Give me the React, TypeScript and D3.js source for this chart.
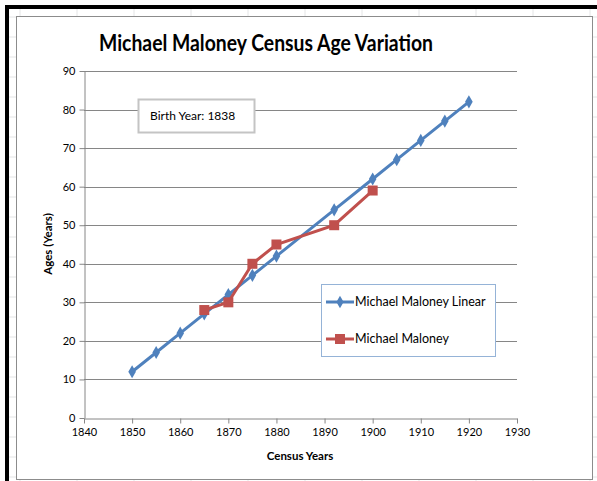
import { useEffect, useRef } from 'react';
import * as d3 from 'd3';

// data
const linearYears = [1850, 1855, 1860, 1865, 1870, 1875, 1880, 1892, 1900, 1905, 1910, 1915, 1920];
const linearAges = [12, 17, 22, 27, 32, 37, 42, 54, 62, 67, 72, 77, 82];
const censusYears = [1865, 1870, 1875, 1880, 1892, 1900];
const censusAges = [28, 30, 40, 45, 50, 59];
const xTicks = [1840, 1850, 1860, 1870, 1880, 1890, 1900, 1910, 1920, 1930];
const yTicks = [0, 10, 20, 30, 40, 50, 60, 70, 80, 90];

const BLUE = '#4F81BD';
const RED = '#C0504D';
const GRID = '#868686';
const FONT = 'Lato, "Open Sans", sans-serif';

function App() {
  const svgRef = useRef<SVGSVGElement>(null);

  useEffect(() => {
    const w = 597;
    const h = 481;
    const svg = d3.select(svgRef.current);
    svg.selectAll('*').remove();
    svg.attr('width', w).attr('height', h).style('background', '#fff');

    // spreadsheet behind the chart
    const sheet = svg.append('g');
    for (let gx = 20; gx < w; gx += 57) {
      sheet.append('line').attr('x1', gx).attr('x2', gx).attr('y1', 9).attr('y2', h).attr('stroke', '#e4e5e6');
    }
    for (let gy = 17; gy < h; gy += 20) {
      sheet.append('line').attr('x1', 9).attr('x2', w).attr('y1', gy).attr('y2', gy).attr('stroke', '#e4e5e6');
    }
    sheet.append('rect').attr('x', 5).attr('y', 5).attr('width', w - 5).attr('height', 4).attr('fill', '#000');
    sheet.append('rect').attr('x', 5).attr('y', 5).attr('width', 4).attr('height', h - 5).attr('fill', '#000');

    // chart area
    svg.append('rect')
      .attr('x', 16.5).attr('y', 16.5).attr('width', 576).attr('height', 463)
      .attr('fill', '#fff').attr('stroke', '#8c8c8c');

    const x = d3.scaleLinear().domain([1840, 1930]).range([84, 517]);
    const y = d3.scaleLinear().domain([0, 90]).range([418, 71]);

    // gridlines
    svg.append('g').selectAll('line').data(yTicks.slice(1)).enter().append('line')
      .attr('x1', 84).attr('x2', 517)
      .attr('y1', d => Math.round(y(d)) + 0.5).attr('y2', d => Math.round(y(d)) + 0.5)
      .attr('stroke', GRID);

    const xAxis = svg.append('g')
      .attr('transform', 'translate(0,' + (Math.round(y(0)) + 0.5) + ')')
      .call(d3.axisBottom(x).tickValues(xTicks).tickFormat(d => String(d)).tickSize(5).tickSizeOuter(0));
    const yAxis = svg.append('g')
      .attr('transform', 'translate(' + (Math.round(x(1840)) + 0.5) + ',0)')
      .call(d3.axisLeft(y).tickValues(yTicks).tickSize(5).tickSizeOuter(0));
    [xAxis, yAxis].forEach(a => {
      a.selectAll('path,line').attr('stroke', GRID);
      a.selectAll('text').attr('font-family', FONT).attr('font-size', 11).attr('fill', '#000');
    });
    xAxis.selectAll('text').attr('dy', '0.9em');
    yAxis.selectAll('text').attr('x', -9);

    // titles
    svg.append('text')
      .attr('x', 266).attr('y', 51).attr('text-anchor', 'middle')
      .attr('font-family', FONT).attr('font-weight', 'bold').attr('font-size', 22)
      .attr('textLength', 334).attr('lengthAdjust', 'spacingAndGlyphs')
      .text('Michael Maloney Census Age Variation');
    svg.append('text')
      .attr('x', 300).attr('y', 460).attr('text-anchor', 'middle')
      .attr('font-family', FONT).attr('font-weight', 'bold').attr('font-size', 11.5)
      .text('Census Years');
    svg.append('text')
      .attr('transform', 'translate(52,244) rotate(-90)').attr('text-anchor', 'middle')
      .attr('font-family', FONT).attr('font-weight', 'bold').attr('font-size', 11.5)
      .text('Ages (Years)');

    const line = d3.line<[number, number]>().x(d => x(d[0])).y(d => y(d[1]));
    const linear: [number, number][] = linearYears.map((yr, i) => [yr, linearAges[i]]);
    const census: [number, number][] = censusYears.map((yr, i) => [yr, censusAges[i]]);

    svg.append('path').datum(linear).attr('d', line).attr('fill', 'none').attr('stroke', BLUE).attr('stroke-width', 3);
    svg.append('g').selectAll('path').data(linear).enter().append('path')
      .attr('d', d3.symbol(d3.symbolDiamond, 50)())
      .attr('transform', d => 'translate(' + x(d[0]) + ',' + y(d[1]) + ')')
      .attr('fill', BLUE);

    svg.append('path').datum(census).attr('d', line).attr('fill', 'none').attr('stroke', RED).attr('stroke-width', 3);
    svg.append('g').selectAll('rect').data(census).enter().append('rect')
      .attr('x', d => x(d[0]) - 5).attr('y', d => y(d[1]) - 5)
      .attr('width', 10).attr('height', 10).attr('fill', RED);

    // birth year note
    svg.append('rect').attr('x', 138.5).attr('y', 99.5).attr('width', 116).attr('height', 33)
      .attr('fill', '#fff').attr('stroke', '#c4c4c4').attr('stroke-width', 2);
    svg.append('text').attr('x', 150).attr('y', 120)
      .attr('font-family', FONT).attr('font-size', 12).text('Birth Year: 1838');

    // legend
    svg.append('rect').attr('x', 321.5).attr('y', 284.5).attr('width', 174).attr('height', 72)
      .attr('fill', '#fff').attr('stroke', '#95B3D7');
    svg.append('line').attr('x1', 326).attr('x2', 354).attr('y1', 302).attr('y2', 302).attr('stroke', BLUE).attr('stroke-width', 3);
    svg.append('path').attr('d', d3.symbol(d3.symbolDiamond, 45)()).attr('transform', 'translate(340,302)').attr('fill', BLUE);
    svg.append('line').attr('x1', 326).attr('x2', 354).attr('y1', 339).attr('y2', 339).attr('stroke', RED).attr('stroke-width', 3);
    svg.append('rect').attr('x', 335).attr('y', 334).attr('width', 10).attr('height', 10).attr('fill', RED);
    svg.append('text').attr('x', 355).attr('y', 306).attr('font-family', FONT).attr('font-size', 12.5).text('Michael Maloney Linear');
    svg.append('text').attr('x', 355).attr('y', 343).attr('font-family', FONT).attr('font-size', 12.5).text('Michael Maloney');
  }, []);

  return (
    <div style={{ position: 'absolute', left: 0, top: 0 }}>
      <svg ref={svgRef}></svg>
    </div>
  );
}

export default App;
